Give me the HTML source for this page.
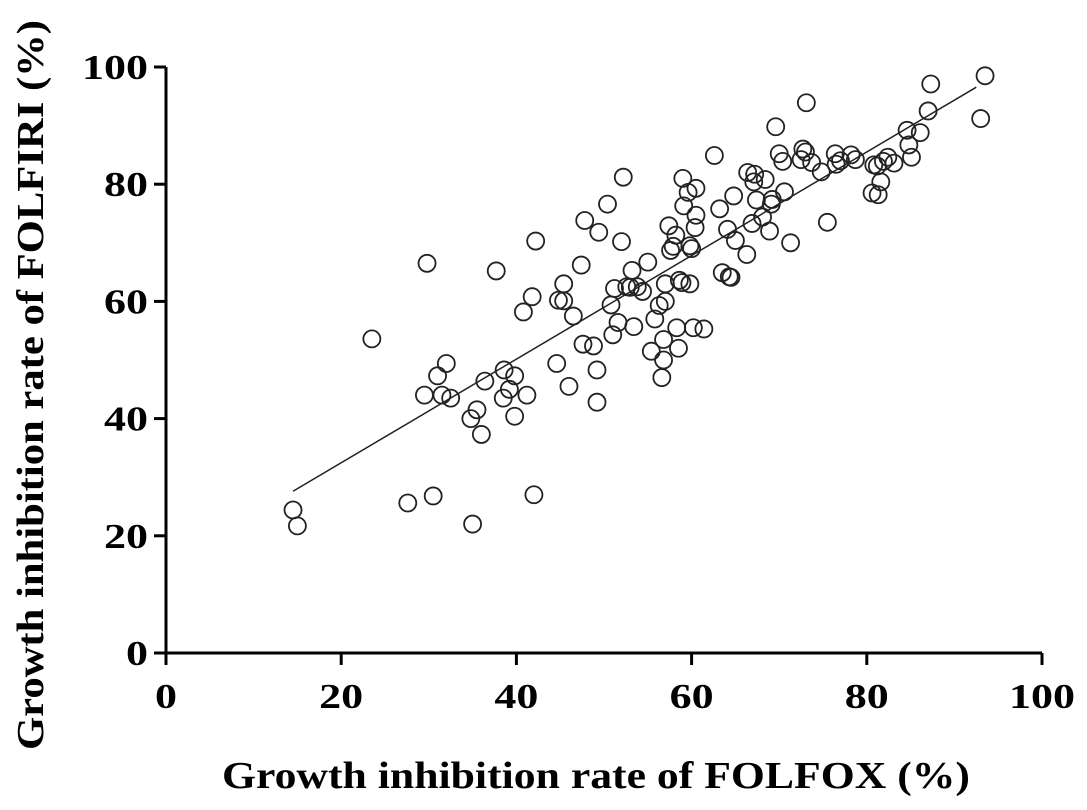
<!DOCTYPE html>
<html><head><meta charset="utf-8"><style>
html,body{margin:0;padding:0;background:#fff;}
svg{display:block;font-family:"Liberation Serif",serif;}
</style></head><body>
<svg id="chart" width="1087" height="810" viewBox="0 0 1087 810"></svg>
<script>
const xTicks=[0,20,40,60,80,100];
const yTicks=[0,20,40,60,80,100];
const folfox=[14.5,15,23.5,27.6,30.5,35,42,29.8,29.5,31,31.5,32,32.5,34.8,35.5,36,36.4,37.7,38.5,38.6,39.2,39.8,39.8,40.8,41.2,41.8,42.2,44.6,44.8,45.4,45.4,46,46.5,47.4,47.6,47.8,49.2,49.2,49.4,50.4,50.8,51,51.2,51.6,52,52.2,52.6,53,53.2,53.4,53.8,54.4,55,55.4,55.8,56.3,56.6,56.8,56.8,57,57.4,57.6,57.9,58.2,58.3,58.5,58.6,58.9,59,59.1,59.6,59.8,60.4,60,60.2,59.8,60.5,61.4,62.6,63.2,63.5,64.1,64.3,64.5,64.8,65,66.3,67.1,67.2,66.9,68.1,67.4,68.4,69.2,68.9,69.1,70,70.4,69.6,70.6,71.3,73.1,73,73.7,72.5,72.7,74.8,75.5,76.4,78.2,76.5,78.7,80.8,81.2,80.6,81.3,81.6,81.9,82.4,83.1,84.6,84.8,85.1,86.1,87,87.3,93.5,93,60.5,57,48.8,66.4,77];
const folfiri=[24.4,21.7,53.6,25.6,26.8,22,27,66.5,44,47.3,44,49.4,43.5,40,41.5,37.3,46.4,65.2,43.5,48.3,45,47.3,40.4,58.2,44,60.8,70.3,49.4,60.2,60.1,63,45.5,57.5,66.2,52.7,73.8,42.8,48.3,71.8,76.6,59.4,54.3,62.2,56.4,70.2,81.2,62.5,62.4,65.3,55.7,62.5,61.7,66.7,51.5,57,59.3,47,50,53.5,63,72.9,68.7,69.4,71.3,55.5,52,63.6,63.2,81,76.3,78.6,69.5,72.6,69,55.5,63,79.3,55.3,84.9,75.8,64.9,72.3,64.2,64.1,78,70.4,68,80.4,81.7,73.3,74.4,77.3,80.8,77.4,72,76.6,85.2,83.9,89.8,78.7,70,93.9,85.5,83.7,84.2,86,82.1,73.5,85.2,85,83.4,84.2,83.3,83.1,78.5,78.2,80.4,83.9,84.6,83.6,89.2,86.7,84.6,88.8,92.5,97.1,98.5,91.2,74.7,60,52.4,82,84];
const X0=166,X1=1042,Y0=653,Y1=67;
const xs=v=>X0+(X1-X0)*v/100, ys=v=>Y0-(Y0-Y1)*v/100;
const svg=document.getElementById('chart');const NS='http://www.w3.org/2000/svg';
function mk(t,a,p){const e=document.createElementNS(NS,t);for(const k in a)e.setAttribute(k,a[k]);(p||svg).appendChild(e);return e;}
let ax=mk('line',{x1:X0,y1:Y1,x2:X0,y2:Y0+1,stroke:'#000','stroke-width':3});


ax=mk('line',{x1:X0-1,y1:Y0,x2:X1,y2:Y0,stroke:'#000','stroke-width':3});


yTicks.forEach(v=>{
 const t=mk('line',{x1:X0-12,y1:ys(v),x2:X0,y2:ys(v),stroke:'#000','stroke-width':3});
 
 
 const s=String(v);
 const l=mk('text',{x:148,y:ys(v)+12,'text-anchor':'end','font-size':35,'font-weight':'bold',textLength:s.length*22,lengthAdjust:'spacingAndGlyphs'});l.textContent=s;
 
 
});
xTicks.forEach(v=>{
 const t=mk('line',{x1:xs(v),y1:Y0,x2:xs(v),y2:Y0+12,stroke:'#000','stroke-width':3});
 
 
 const s=String(v);
 const l=mk('text',{x:xs(v),y:708,'text-anchor':'middle','font-size':35,'font-weight':'bold',textLength:s.length*22,lengthAdjust:'spacingAndGlyphs'});l.textContent=s;
 
 
});
const n=folfox.length;let mx=0,my=0;for(let i=0;i<n;i++){mx+=folfox[i];my+=folfiri[i];}mx/=n;my/=n;
let sxy=0,sxx=0;for(let i=0;i<n;i++){sxy+=(folfox[i]-mx)*(folfiri[i]-my);sxx+=(folfox[i]-mx)**2;}
const b=sxy/sxx,a=my-b*mx;const xmin=Math.min(...folfox),xmax=Math.max(...folfox)-1;
const rl=mk('line',{x1:xs(xmin),y1:ys(a+b*xmin),x2:xs(xmax),y2:ys(a+b*xmax),stroke:'#222','stroke-width':1.5});


for(let i=0;i<n;i++){
 const c=mk('circle',{cx:xs(folfox[i]),cy:ys(folfiri[i]),r:8.5,fill:'none',stroke:'#222','stroke-width':1.8});
 
 
}
let tt=mk('text',{x:596,y:788,'text-anchor':'middle','font-size':38,'font-weight':'bold',textLength:748,lengthAdjust:'spacingAndGlyphs'});tt.textContent='Growth inhibition rate of FOLFOX  (%)';


tt=mk('text',{x:0,y:0,'text-anchor':'middle','font-size':38,'font-weight':'bold',textLength:730,lengthAdjust:'spacingAndGlyphs',transform:'translate(43,385) rotate(-90)'});tt.textContent='Growth inhibition rate of FOLFIRI  (%)';


</script>
</body></html>
